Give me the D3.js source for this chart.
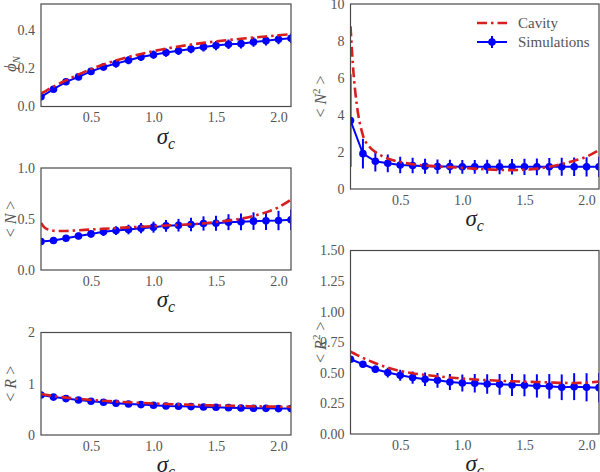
<!DOCTYPE html>
<html><head><meta charset="utf-8">
<script src="https://cdn.jsdelivr.net/npm/d3@7"></script>
<style>body{margin:0;background:#fff}svg{display:block}</style>
</head><body>
<svg id="chart" width="600" height="472"></svg>
<script>
// ---- data ----
const simX = [0.1,0.2,0.3,0.4,0.5,0.6,0.7,0.8,0.9,1.0,1.1,1.2,1.3,1.4,1.5,1.6,1.7,1.8,1.9,2.0,2.1];
const cavX = [0.1,0.125,0.15,0.2,0.25,0.3,0.4,0.5,0.6,0.7,0.8,0.9,1.0,1.1,1.2,1.3,1.4,1.5,1.6,1.7,1.8,1.9,2.0,2.1];

const phiSim = [0.046,0.086,0.125,0.151,0.180,0.203,0.221,0.239,0.256,0.268,0.279,0.289,0.298,0.309,0.316,0.323,0.326,0.335,0.342,0.349,0.354];
const phiErr = [0.010,0.012,0.014,0.016,0.018,0.019,0.020,0.021,0.021,0.022,0.022,0.023,0.023,0.024,0.024,0.025,0.025,0.025,0.026,0.026,0.026];
const phiCav = [0.063,0.072,0.081,0.100,0.117,0.133,0.164,0.192,0.216,0.237,0.256,0.272,0.287,0.300,0.311,0.321,0.330,0.338,0.345,0.352,0.358,0.364,0.370,0.376];

const nSim = [0.279,0.289,0.311,0.334,0.354,0.374,0.387,0.397,0.410,0.420,0.433,0.439,0.446,0.456,0.459,0.469,0.472,0.479,0.482,0.485,0.492];
const nErr = [0.020,0.025,0.030,0.033,0.036,0.040,0.043,0.047,0.050,0.054,0.058,0.062,0.066,0.070,0.074,0.078,0.082,0.086,0.090,0.095,0.100];
const nCav = [0.46,0.42,0.40,0.385,0.382,0.383,0.390,0.397,0.404,0.411,0.418,0.424,0.430,0.436,0.442,0.449,0.457,0.470,0.484,0.503,0.530,0.565,0.615,0.690];

const rSim = [0.780,0.740,0.710,0.684,0.658,0.638,0.619,0.606,0.593,0.580,0.567,0.560,0.554,0.547,0.541,0.534,0.528,0.521,0.520,0.515,0.515];
const rErr = [0.030,0.030,0.030,0.030,0.030,0.030,0.030,0.030,0.030,0.030,0.035,0.035,0.035,0.035,0.040,0.040,0.040,0.040,0.045,0.045,0.045];
const rCav = [0.80,0.79,0.78,0.76,0.745,0.73,0.705,0.685,0.667,0.652,0.638,0.626,0.615,0.605,0.597,0.589,0.582,0.576,0.570,0.565,0.560,0.556,0.552,0.549];

const n2Sim = [3.70,1.91,1.50,1.39,1.30,1.27,1.23,1.21,1.21,1.20,1.20,1.20,1.20,1.20,1.20,1.20,1.20,1.20,1.20,1.20,1.20];
const n2Err = [2.50,0.80,0.55,0.48,0.45,0.42,0.40,0.38,0.37,0.37,0.37,0.38,0.40,0.42,0.44,0.45,0.47,0.49,0.50,0.52,0.55];
const n2Cav = [8.8,6.2,4.6,2.9,2.3,2.0,1.65,1.46,1.34,1.27,1.22,1.18,1.14,1.10,1.06,1.03,1.02,1.04,1.10,1.20,1.35,1.53,1.75,2.10];

const r2Sim = [0.611,0.570,0.529,0.502,0.480,0.461,0.447,0.439,0.425,0.417,0.415,0.409,0.406,0.401,0.398,0.393,0.390,0.382,0.387,0.382,0.379];
const r2Err = [0.020,0.025,0.030,0.040,0.045,0.050,0.055,0.060,0.065,0.070,0.075,0.080,0.085,0.090,0.090,0.095,0.100,0.105,0.110,0.115,0.120];
const r2Cav = [0.674,0.660,0.647,0.622,0.600,0.578,0.543,0.515,0.497,0.483,0.472,0.462,0.453,0.446,0.440,0.435,0.431,0.428,0.425,0.422,0.418,0.417,0.420,0.428];

const xTicks = [0.5,1.0,1.5,2.0];
const legendLabels = ["Cavity","Simulations"];

// ---- layout ----
const RED = "#d81e1e", BLUE = "#0000ff", GREY = "#555555", FRAME = "#4a4a4a";
const FONT = "'Liberation Serif','DejaVu Serif',serif";
const svg = d3.select("#chart");

const panels = [
  {id:"p1", x0:41, x1:291, y0:4, y1:106.5, ydom:[-0.005,0.535], yt:[0,0.2,0.4], fmt:d3.format(".1f"), sim:phiSim, err:phiErr, cav:phiCav, label:"phi"},
  {id:"p2", x0:41, x1:291, y0:168, y1:270, ydom:[0,1], yt:[0,0.5,1.0], fmt:d3.format(".1f"), sim:nSim, err:nErr, cav:nCav, label:"N"},
  {id:"p3", x0:41, x1:291, y0:332.5, y1:435, ydom:[0,2], yt:[0,1,2], fmt:d3.format("d"), sim:rSim, err:rErr, cav:rCav, label:"R"},
  {id:"p4", x0:350.5, x1:599, y0:4, y1:189, ydom:[0,10], yt:[0,2,4,6,8,10], fmt:d3.format("d"), sim:n2Sim, err:n2Err, cav:n2Cav, label:"N2", legend:true},
  {id:"p5", x0:350.5, x1:599, y0:250.5, y1:434, ydom:[0,1.5], yt:[0,0.25,0.5,0.75,1.0,1.25,1.5], fmt:d3.format(".2f"), sim:r2Sim, err:r2Err, cav:r2Cav, label:"R2"}
];

const defs = svg.append("defs");

panels.forEach(p => {
  const x = d3.scaleLinear().domain([0.1,2.1]).range([p.x0,p.x1]);
  const y = d3.scaleLinear().domain(p.ydom).range([p.y1,p.y0]);
  defs.append("clipPath").attr("id","clip-"+p.id).append("rect")
    .attr("x",p.x0).attr("y",p.y0).attr("width",p.x1-p.x0).attr("height",p.y1-p.y0);
  const g = svg.append("g");

  // axes (no tick marks)
  const xa = g.append("g").attr("transform",`translate(0,${p.y1})`)
    .call(d3.axisBottom(x).tickValues(xTicks).tickFormat(d3.format(".1f")).tickSize(0).tickPadding(6));
  const ya = g.append("g").attr("transform",`translate(${p.x0},0)`)
    .call(d3.axisLeft(y).tickValues(p.yt).tickFormat(p.fmt).tickSize(0).tickPadding(6));
  [xa,ya].forEach(a=>{
    a.select(".domain").remove();
    a.selectAll("text").attr("fill",GREY).style("font-family",FONT).style("font-size","14px");
  });

  const plot = g.append("g").attr("clip-path",`url(#clip-${p.id})`);
  const simData = simX.map((v,i)=>({x:v,y:p.sim[i],e:p.err[i]}));
  // error bars
  plot.selectAll("line.err").data(simData).join("line")
    .attr("x1",d=>x(d.x)).attr("x2",d=>x(d.x))
    .attr("y1",d=>y(d.y-d.e)).attr("y2",d=>y(d.y+d.e))
    .attr("stroke",BLUE).attr("stroke-width",2);
  plot.append("path").datum(simData)
    .attr("d",d3.line().x(d=>x(d.x)).y(d=>y(d.y)))
    .attr("fill","none").attr("stroke",BLUE).attr("stroke-width",2);
  plot.selectAll("circle").data(simData).join("circle")
    .attr("cx",d=>x(d.x)).attr("cy",d=>y(d.y)).attr("r",3.8).attr("fill",BLUE);
  // cavity
  const cavData = cavX.map((v,i)=>({x:v,y:p.cav[i]}));
  plot.append("path").datum(cavData)
    .attr("d",d3.line().curve(d3.curveMonotoneX).x(d=>x(d.x)).y(d=>y(d.y)))
    .attr("fill","none").attr("stroke",RED).attr("stroke-width",2.6)
    .attr("stroke-dasharray","10,4,2.5,4");

  // frame
  g.append("rect").attr("x",p.x0).attr("y",p.y0).attr("width",p.x1-p.x0).attr("height",p.y1-p.y0)
    .attr("fill","none").attr("stroke",FRAME).attr("stroke-width",1.2);

  // x label sigma_c
  const xl = g.append("text").attr("x",(p.x0+p.x1)/2).attr("y",p.y1+37)
    .attr("text-anchor","middle").style("font-family",FONT).attr("fill","#222");
  xl.append("tspan").text("σ").style("font-style","italic").style("font-size","23px");
  xl.append("tspan").text("c").attr("dy",5).style("font-style","italic").style("font-size","16px");

  // y label
  const lx = p.x0 < 100 ? 10 : 320;
  const cy = p.label==="phi" ? 64 : (p.y0+p.y1)/2;
  const yl = g.append("text").attr("transform",`translate(${lx},${cy}) rotate(-90)`)
    .attr("text-anchor","middle").attr("dy","0.35em")
    .style("font-family",FONT).style("font-size","16px").attr("fill",GREY);
  if (p.label==="phi") {
    yl.append("tspan").text("ϕ").style("font-style","italic");
    yl.append("tspan").text("N").attr("dy",4).style("font-style","italic").style("font-size","11px");
  } else {
    const base = p.label[0];
    yl.append("tspan").text("< ");
    yl.append("tspan").text(base).style("font-style","italic");
    if (p.label.length>1) yl.append("tspan").text("2").attr("dy",-6).style("font-size","11px");
    yl.append("tspan").text(" >").attr("dy",p.label.length>1?6:0);
  }

  // legend
  if (p.legend) {
    const lg = g.append("g");
    const ly = [23,42];
    lg.append("line").attr("x1",477).attr("x2",507).attr("y1",ly[0]).attr("y2",ly[0])
      .attr("stroke",RED).attr("stroke-width",2.6).attr("stroke-dasharray","10,4,2.5,4");
    lg.append("line").attr("x1",477).attr("x2",507).attr("y1",ly[1]).attr("y2",ly[1])
      .attr("stroke",BLUE).attr("stroke-width",2);
    lg.append("line").attr("x1",492).attr("x2",492).attr("y1",ly[1]-6).attr("y2",ly[1]+6)
      .attr("stroke",BLUE).attr("stroke-width",2);
    lg.append("circle").attr("cx",492).attr("cy",ly[1]).attr("r",3.8).attr("fill",BLUE);
    legendLabels.forEach((t,i)=>{
      lg.append("text").attr("x",518).attr("y",ly[i]).attr("dy","0.35em").text(t)
        .style("font-family",FONT).style("font-size","15px").attr("fill",GREY);
    });
  }
});
</script>
</body></html>
